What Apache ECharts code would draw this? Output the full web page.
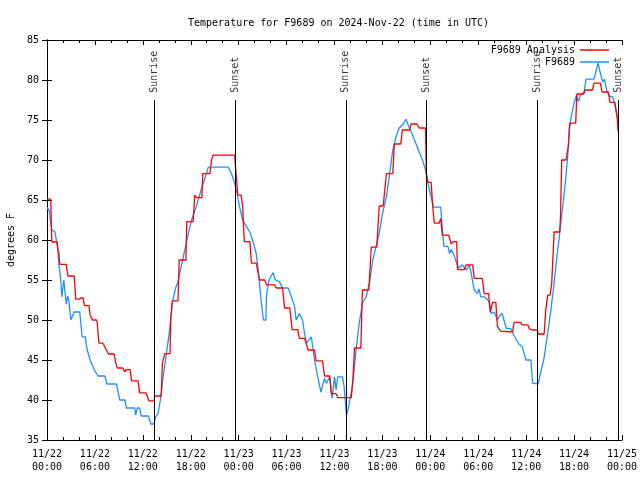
<!DOCTYPE html>
<html><head><meta charset="utf-8">
<script src="https://cdn.jsdelivr.net/npm/echarts@6/dist/echarts.min.js"></script>
<style>html,body{margin:0;padding:0;background:#fff}#c{width:640px;height:480px}</style>
</head><body><div id="c"></div>
<script>
// hours since 2024-11-22 00:00 UTC
const xTickLabels = ['11/22\n00:00','11/22\n06:00','11/22\n12:00','11/22\n18:00','11/23\n00:00','11/23\n06:00','11/23\n12:00','11/23\n18:00','11/24\n00:00','11/24\n06:00','11/24\n12:00','11/24\n18:00','11/25\n00:00'];
const eventHours = [13.42, 23.6, 37.42, 47.55, 61.42, 71.54];
const eventNames = ['Sunrise','Sunset','Sunrise','Sunset','Sunrise','Sunset'];

const analysisHours = [0,0.46,0.5,0.6,1.29,1.35,1.5,1.6,2.4,2.45,2.6,2.62,3.4,3.6,4.0,4.05,4.5,4.7,5.25,5.4,5.7,6.2,6.3,6.5,7.0,7.05,7.25,7.7,8.4,8.6,8.8,9.5,9.75,9.9,10.4,10.6,11.4,11.6,12.4,12.75,13.4,13.5,14.3,14.45,14.75,15.4,15.5,15.7,16.4,16.55,17.4,17.5,18.3,18.5,18.7,18.72,19.4,19.5,20.4,20.6,20.8,23.5,23.7,23.9,24.3,24.5,24.7,25.4,25.6,26.2,26.6,27.25,27.5,28.5,28.7,29.5,29.75,30.4,30.7,31.4,31.6,32.25,32.7,33.5,33.7,34.5,34.75,35.4,35.6,36.2,36.4,38.1,38.3,38.5,39.3,39.5,40.3,40.6,41.3,41.6,42.1,42.5,43.3,43.5,44.3,44.5,45.4,45.6,46.3,46.6,47.4,47.5,47.7,48.1,48.3,48.5,49.1,49.3,49.45,49.5,50.3,50.6,50.9,51.3,51.4,52.25,52.5,53.3,53.5,54.5,54.75,55.3,55.5,55.8,56.2,56.4,56.8,57.0,58.3,58.5,59.3,59.45,60.2,60.4,60.8,61.4,61.5,62.25,62.45,62.7,63.0,63.2,63.5,64.2,64.3,64.45,65.0,65.3,65.45,66.2,66.35,67.2,67.4,68.3,68.5,69.3,69.5,70.3,70.5,71.1,71.4,71.5];
const analysisTemps = [65.1,65.1,63.75,59.75,59.75,58.96,58.3,56.96,56.96,56.6,56.6,55.5,55.5,52.6,52.6,52.8,52.8,51.8,51.8,50.6,50.0,50.0,49.6,47.1,47.1,47.3,47.1,45.75,45.75,44.7,44.0,44.0,43.5,43.8,43.8,42.4,42.4,40.9,40.9,39.9,39.9,40.5,40.5,44.6,45.8,45.8,50.2,52.4,52.4,57.5,57.5,62.3,62.3,65.6,65.6,65.3,65.3,68.3,68.3,70.0,70.6,70.6,67.9,65.6,65.6,64.2,59.8,59.8,57.1,57.1,55.0,55.0,54.4,54.4,54.0,54.0,51.5,51.5,48.8,48.8,47.7,47.7,46.25,46.25,44.9,44.9,43.0,43.0,40.8,40.8,40.3,40.3,42.5,46.5,46.5,53.75,53.75,59.1,59.1,64.25,64.25,68.3,68.3,72.0,72.0,73.75,73.75,74.5,74.5,74.0,74.0,68.3,67.2,67.2,64.2,62.1,62.1,62.7,62.7,60.6,60.6,59.5,59.8,59.8,56.3,56.3,56.9,56.9,55.2,55.2,53.3,53.3,51.0,52.2,52.2,49.2,48.6,48.5,48.5,49.7,49.7,49.4,49.4,48.9,48.75,48.75,48.25,48.25,51.25,53.1,53.1,54.6,61.0,61.0,62.9,70.0,70.0,71.9,74.6,74.6,78.25,78.25,78.75,78.75,79.6,79.6,78.5,78.5,77.2,77.2,75.4,73.6];

const stationHours = [0,0.3,0.46,0.6,0.8,1.0,1.1,1.3,1.5,1.7,1.85,2.1,2.4,2.6,2.75,3.0,3.2,3.4,4.1,4.4,4.8,5.0,5.4,5.6,5.9,6.4,7.25,7.5,8.7,9.1,9.75,9.95,11.0,11.1,11.3,11.6,11.8,12.7,13.0,13.4,13.6,13.9,14.2,14.5,14.95,15.3,15.7,16.1,16.4,16.7,17.25,17.7,18.1,18.7,19.3,19.95,20.2,22.7,23.1,23.5,23.8,24.1,24.5,24.95,25.4,25.8,26.2,26.5,26.8,27.1,27.4,27.5,27.8,28.3,28.6,29.1,29.5,30.2,30.6,31.0,31.2,31.6,32.0,32.25,32.5,33.1,33.5,33.9,34.3,34.75,35.0,35.4,35.7,36.0,36.2,36.4,37.0,37.2,37.5,37.7,38.0,38.3,38.7,39.1,39.5,39.96,40.4,40.8,41.2,41.6,42.0,42.5,42.9,43.3,43.7,44.1,44.6,44.96,45.3,45.7,46.1,46.5,46.95,47.4,47.7,48.1,48.4,49.3,49.5,49.7,50.2,50.4,50.6,50.9,51.3,51.6,52.0,52.5,52.9,53.2,53.5,53.9,54.1,54.3,54.75,55.2,55.4,55.6,56.0,56.4,56.7,57.0,57.5,58.1,58.5,59.1,59.5,59.96,60.6,60.8,61.5,61.8,62.2,62.7,63.1,63.5,63.8,64.1,64.5,64.9,65.2,65.4,65.6,66.0,66.3,66.55,66.8,67.25,67.5,68.5,69.0,69.3,69.6,69.8,70.1,70.4,70.8,71.1,71.4];
const stationTemps = [64.1,63.6,62.1,61.25,61.0,61.0,60.4,59.2,56.9,55.2,52.9,55.0,52.0,53.0,52.2,50.0,50.0,51.0,51.0,47.9,47.9,46.4,45.0,45.0,43.8,43.0,43.0,42.0,42.0,40.0,40.0,39.0,39.0,38.1,39.0,39.0,38.0,38.0,37.0,37.0,37.9,38.3,40.0,42.5,45.8,48.3,52.2,54.0,54.75,56.25,58.75,60.8,62.5,64.2,66.25,68.3,69.1,69.1,68.3,67.1,65.8,64.2,62.5,61.7,61.0,59.8,58.3,55.8,52.5,50.0,50.0,53.3,55.0,55.9,55.0,54.8,54.0,54.0,52.9,51.7,50.0,50.8,50.0,48.3,47.1,47.9,45.0,42.9,41.0,42.7,42.1,42.9,40.2,42.9,41.25,42.9,42.9,41.7,38.1,38.75,40.4,42.1,46.25,49.6,52.1,52.9,54.8,57.5,59.2,60.8,63.3,65.4,68.3,71.25,72.9,74.0,74.5,75.1,74.2,73.3,72.3,71.25,70.2,68.75,67.1,65.4,64.1,64.1,61.5,59.2,59.2,58.3,58.8,58.3,57.1,56.5,56.9,56.25,56.9,55.4,53.75,53.3,53.9,52.9,52.9,52.5,52.1,50.8,51.0,50.0,50.6,50.8,49.0,48.9,48.0,47.0,46.7,45.0,45.0,42.1,42.0,43.4,45.0,48.4,51.25,54.6,57.5,60.0,63.5,67.1,70.4,73.75,75.2,77.1,78.1,77.3,78.1,78.5,80.1,80.1,82.1,80.8,79.75,80.1,78.6,78.0,77.9,77.0,75.2];

const FONT = 'DejaVu Sans Mono';
const zip = (a, b) => a.map((v, i) => [v, b[i]]);
const chart = echarts.init(document.getElementById('c'));
const axisCommon = {
  axisLine: { show: true, lineStyle: { color: '#000', width: 1 } },
  splitLine: { show: false }
};
chart.setOption({
  animation: false,
  backgroundColor: '#fff',
  textStyle: { fontFamily: FONT },
  title: {
    text: 'Temperature for F9689 on 2024-Nov-22 (time in UTC)',
    left: 183, top: 13,
    textStyle: { fontFamily: FONT, fontSize: 10, fontWeight: 'normal', color: '#000' }
  },
  legend: {
    orient: 'vertical', align: 'right', right: 26, top: 39,
    itemWidth: 29, itemHeight: 1.5, itemGap: 0, icon: 'rect',
    data: ['F9689 Analysis', 'F9689'],
    textStyle: { fontFamily: FONT, fontSize: 10, color: '#000', lineHeight: 12 }
  },
  grid: { left: 47, right: 18, top: 40, bottom: 40, containLabel: false, outerBoundsMode: 'none' },
  xAxis: [
    Object.assign({
      type: 'value', min: 0, max: 72, interval: 6,
      axisTick: { show: true, inside: true, length: 5, lineStyle: { color: '#000' } },
      minorTick: { show: true, splitNumber: 3, length: 3, lineStyle: { color: '#000' } },
      axisLabel: { margin: 8, fontFamily: FONT, fontSize: 10, color: '#000', lineHeight: 13,
        formatter: v => xTickLabels[Math.round(v / 6)] }
    }, axisCommon),
    Object.assign({
      type: 'value', min: 0, max: 72, interval: 6, position: 'top',
      axisTick: { show: true, inside: true, length: 5, lineStyle: { color: '#000' } },
      minorTick: { show: true, splitNumber: 3, length: 3, lineStyle: { color: '#000' } },
      axisLabel: { show: false }
    }, axisCommon)
  ],
  yAxis: [
    Object.assign({
      type: 'value', min: 35, max: 85, interval: 5,
      name: 'degrees F', nameLocation: 'middle', nameGap: 30,
      nameTextStyle: { fontFamily: FONT, fontSize: 10, color: '#000' },
      axisTick: { show: true, inside: true, length: 5, lineStyle: { color: '#000' } },
      axisLabel: { margin: 8, fontFamily: FONT, fontSize: 10, color: '#000' }
    }, axisCommon),
    Object.assign({
      type: 'value', min: 35, max: 85, interval: 5, position: 'right',
      axisTick: { show: true, inside: true, length: 5, lineStyle: { color: '#000' } },
      axisLabel: { show: false }
    }, axisCommon)
  ],
  series: [
    {
      name: 'F9689 Analysis', type: 'line', data: zip(analysisHours, analysisTemps),
      showSymbol: false, symbol: 'none', color: '#ff0000',
      lineStyle: { color: '#ff0000', width: 1.3 }, z: 3,
      markLine: {
        silent: true, symbol: ['none', 'none'], animation: false,
        label: { show: false },
        lineStyle: { color: '#000', width: 1, type: 'solid' },
        data: eventHours.map(h => [{ coord: [h, 35] }, { coord: [h, 77.5] }])
      }
    },
    {
      name: 'F9689', type: 'line', data: zip(stationHours, stationTemps),
      showSymbol: false, symbol: 'none', color: '#1e90ff',
      lineStyle: { color: '#1e90ff', width: 1.3 }, z: 2
    },
    {
      name: 'events', type: 'scatter', symbolSize: 0, silent: true,
      data: eventHours.map((h, i) => ({ value: [h, 78.4], name: eventNames[i] })),
      label: { show: true, position: 'inside', formatter: '{b}', rotate: 90,
        align: 'left', verticalAlign: 'middle',
        fontFamily: FONT, fontSize: 10, color: '#000' }
    }
  ]
});
</script></body></html>
